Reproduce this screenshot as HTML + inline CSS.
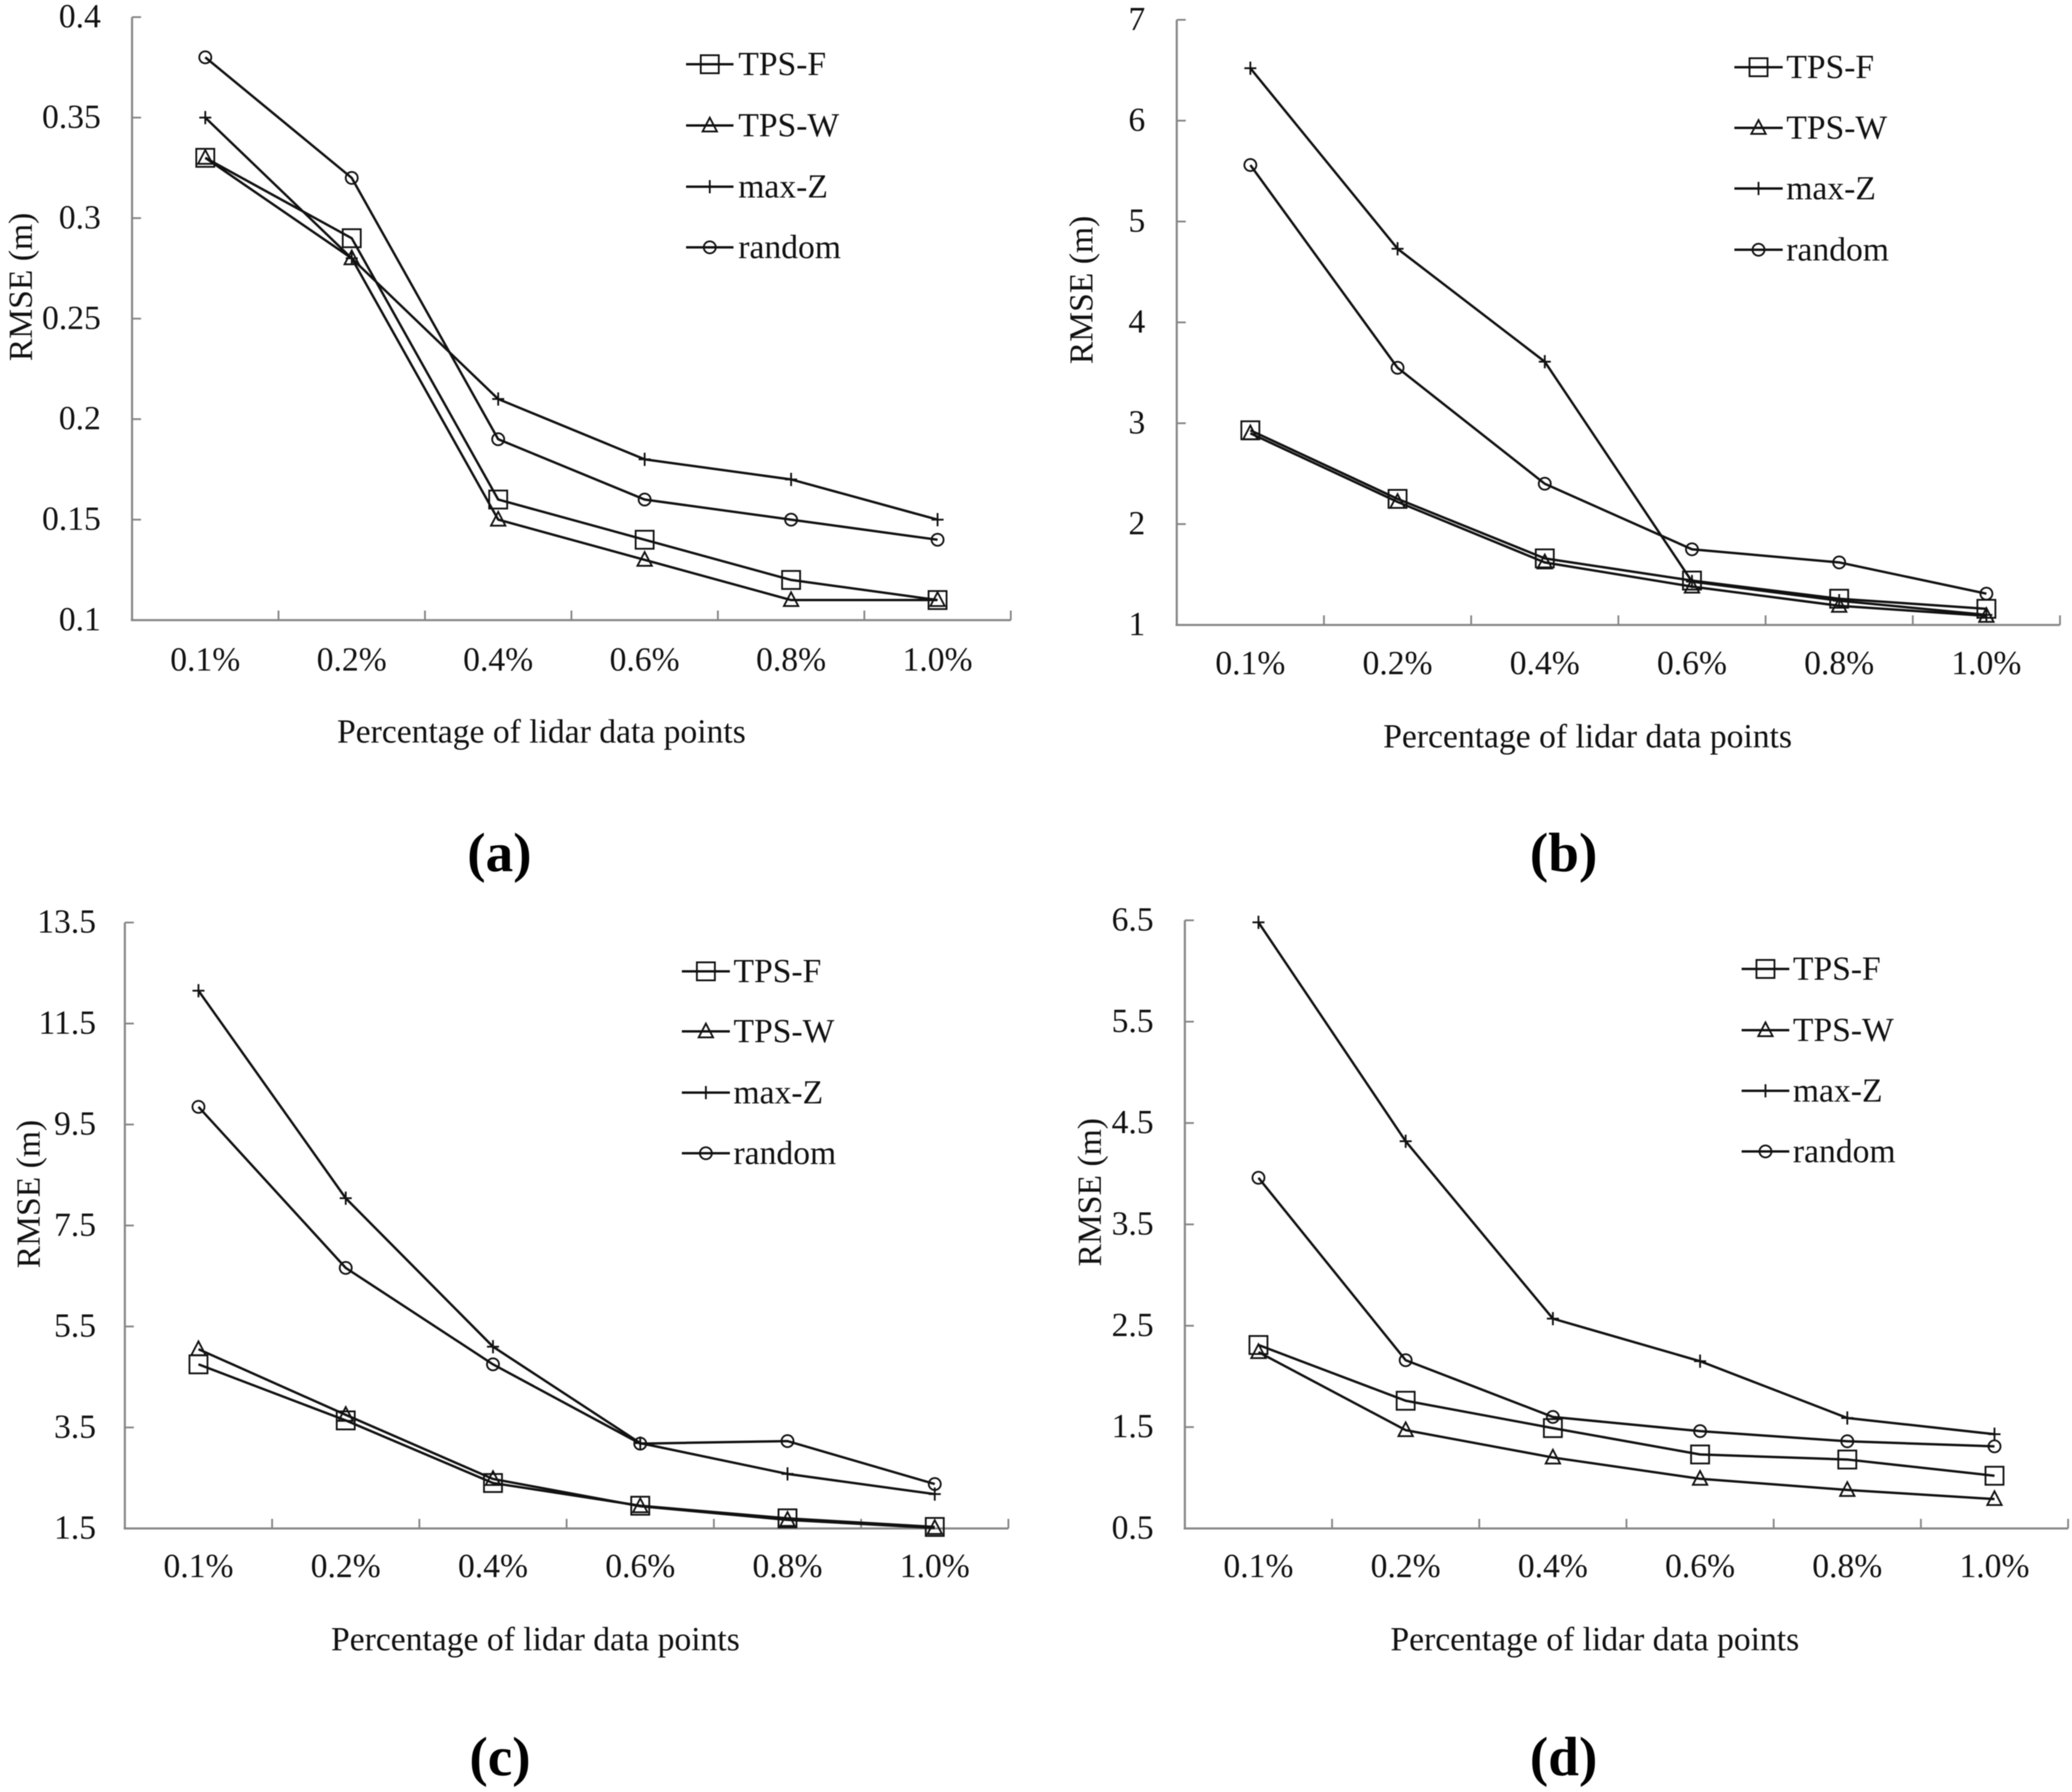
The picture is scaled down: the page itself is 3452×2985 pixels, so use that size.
<!DOCTYPE html>
<html lang="en">
<head>
<meta charset="utf-8">
<title>RMSE versus percentage of lidar data points</title>
<style>
html,body{margin:0;padding:0;background:#fff;}
#figure{display:block;width:3452px;height:2985px;filter:blur(0.8px);}
text{font-family:"Liberation Serif","Times New Roman",serif;fill:#111;font-size:56px;}
.caption{font-size:92px;font-weight:bold;fill:#000;}
</style>
</head>
<body>
<svg id="figure" xmlns="http://www.w3.org/2000/svg" width="3452" height="2985" viewBox="0 0 3452 2985"></svg>
<script>
// ---- data ----
const categories = ['0.1%', '0.2%', '0.4%', '0.6%', '0.8%', '1.0%'];
const seriesNames = ['TPS-F', 'TPS-W', 'max-Z', 'random'];

const yTicksA = ['0.1', '0.15', '0.2', '0.25', '0.3', '0.35', '0.4'];
const tpsFA = [0.33, 0.29, 0.16, 0.14, 0.12, 0.11];
const tpsWA = [0.33, 0.28, 0.15, 0.13, 0.11, 0.11];
const maxZA = [0.35, 0.28, 0.21, 0.18, 0.17, 0.15];
const randomA = [0.38, 0.32, 0.19, 0.16, 0.15, 0.14];

const yTicksB = ['1', '2', '3', '4', '5', '6', '7'];
const tpsFB = [2.93, 2.25, 1.66, 1.44, 1.26, 1.16];
const tpsWB = [2.90, 2.22, 1.62, 1.38, 1.19, 1.09];
const maxZB = [6.52, 4.73, 3.61, 1.43, 1.24, 1.10];
const randomB = [5.56, 3.55, 2.40, 1.75, 1.62, 1.31];

const yTicksC = ['1.5', '3.5', '5.5', '7.5', '9.5', '11.5', '13.5'];
const tpsFC = [4.75, 3.64, 2.40, 1.95, 1.70, 1.53];
const tpsWC = [5.05, 3.75, 2.48, 1.94, 1.67, 1.51];
const maxZC = [12.15, 8.04, 5.10, 3.19, 2.58, 2.18];
const randomC = [9.85, 6.66, 4.75, 3.18, 3.23, 2.38];

const yTicksD = ['0.5', '1.5', '2.5', '3.5', '4.5', '5.5', '6.5'];
const tpsFD = [2.31, 1.76, 1.49, 1.23, 1.18, 1.02];
const tpsWD = [2.24, 1.47, 1.20, 0.99, 0.88, 0.79];
const maxZD = [6.48, 4.32, 2.57, 2.15, 1.59, 1.43];
const randomD = [3.96, 2.16, 1.60, 1.46, 1.36, 1.31];

// ---- layout ----
const panels = [
  {id:'a', series:[tpsFA,tpsWA,maxZA,randomA], ticks:yTicksA, left:220, right:1684, top:28.5, base:1033,
   xTickBase:1117, xTitle:[902,1237], yTitle:[53,478], tickRight:168,
   legend:{x1:1143,x2:1222,text:1230,ys:[107,209,311,412]}, caption:[832,1451]},
  {id:'b', series:[tpsFB,tpsWB,maxZB,randomB], ticks:yTicksB, left:1960.5, right:3432, top:33, base:1041,
   xTickBase:1123, xTitle:[2645,1245], yTitle:[1820,483], tickRight:1908,
   legend:{x1:2889.5,x2:2970,text:2976,ys:[112,213,314,416]}, caption:[2605,1451]},
  {id:'c', series:[tpsFC,tpsWC,maxZC,randomC], ticks:yTicksC, left:208, right:1680, top:1536.7, base:2546,
   xTickBase:2627, xTitle:[892,2749], yTitle:[66,1989], tickRight:160,
   legend:{x1:1136,x2:1216,text:1222,ys:[1618,1718,1820,1921]}, caption:[833,2957]},
  {id:'d', series:[tpsFD,tpsWD,maxZD,randomD], ticks:yTicksD, left:1974, right:3445.5, top:1533, base:2546,
   xTickBase:2627, xTitle:[2657,2749], yTitle:[1834,1986], tickRight:1922,
   legend:{x1:2901.6,x2:2981,text:2987,ys:[1614,1716,1817,1918]}, caption:[2605,2957]}
];

const NS = 'http://www.w3.org/2000/svg';
const svg = document.getElementById('figure');
const INK = '#111';
const AXIS = '#868686';

function make(parent, tag, attrs, content) {
  const el = document.createElementNS(NS, tag);
  for (const k in attrs) el.setAttribute(k, attrs[k]);
  if (content !== undefined) el.textContent = content;
  parent.appendChild(el);
  return el;
}

function drawMarker(parent, kind, cx, cy) {
  const st = {fill:'none', stroke:INK, 'stroke-width':3};
  let el;
  if (kind === 0) {
    el = make(parent, 'rect', Object.assign({x:cx-15, y:cy-15, width:30, height:30}, st));
  } else if (kind === 1) {
    el = make(parent, 'path', Object.assign({d:'M'+cx+' '+(cy-13)+'L'+(cx+12)+' '+(cy+10)+'L'+(cx-12)+' '+(cy+10)+'Z'}, st));
  } else if (kind === 2) {
    el = make(parent, 'path', Object.assign({d:'M'+(cx-10)+' '+cy+'H'+(cx+10)+'M'+cx+' '+(cy-11)+'V'+(cy+11)}, st));
  } else {
    el = make(parent, 'circle', Object.assign({cx:cx, cy:cy, r:10}, st));
  }
  
  
  return el;
}

function drawPanel(p) {
  const g = make(svg, 'g', {});
  
  

  const yMin = Number(p.ticks[0]);
  const yMax = Number(p.ticks[p.ticks.length - 1]);
  const yScale = v => p.base - (v - yMin) / (yMax - yMin) * (p.base - p.top);
  const band = (p.right - p.left) / categories.length;
  const xEdge = i => p.left + i * band;
  const xScale = i => p.left + (i + 0.5) * band;

  // axes
  const yAxis = make(g, 'line', {x1:p.left, x2:p.left, y1:p.top, y2:p.base, stroke:AXIS, 'stroke-width':3.5});
  
  
  const xAxis = make(g, 'line', {x1:p.left-2, x2:p.right, y1:p.base, y2:p.base, stroke:AXIS, 'stroke-width':3.5});
  
  

  // y ticks and labels
  p.ticks.forEach(label => {
    const y = yScale(Number(label));
    const t = make(g, 'line', {x1:p.left, x2:p.left+15, y1:y, y2:y, stroke:AXIS, 'stroke-width':3});
    
    
    const l = make(g, 'text', {x:p.tickRight, y:y+17, 'text-anchor':'end'}, label);
    
    
  });

  // x ticks and labels
  for (let i = 1; i <= categories.length; i++) {
    const t = make(g, 'line', {x1:xEdge(i), x2:xEdge(i), y1:p.base-16, y2:p.base, stroke:AXIS, 'stroke-width':3});
    
    
  }
  categories.forEach((c, i) => {
    const l = make(g, 'text', {x:xScale(i), y:p.xTickBase, 'text-anchor':'middle'}, c);
    
    
  });

  // axis titles
  const xt = make(g, 'text', {x:p.xTitle[0], y:p.xTitle[1], 'text-anchor':'middle'}, 'Percentage of lidar data points');
  
  
  const yt = make(g, 'text', {transform:'translate('+p.yTitle[0]+' '+p.yTitle[1]+') rotate(-90)', 'text-anchor':'middle'}, 'RMSE (m)');
  
  

  // series
  p.series.forEach((values, s) => {
    const sg = make(g, 'g', {});
    
    
    const pts = values.map((v, i) => xScale(i) + ',' + yScale(v)).join(' ');
    const line = make(sg, 'polyline', {points:pts, fill:'none', stroke:INK, 'stroke-width':4, 'stroke-linejoin':'round'});
    
    
    values.forEach((v, i) => drawMarker(sg, s, xScale(i), yScale(v)));
  });

  // legend
  const lg = make(g, 'g', {});
  
  
  seriesNames.forEach((name, s) => {
    const y = p.legend.ys[s];
    const e = make(lg, 'g', {});
    
    
    const ln = make(e, 'line', {x1:p.legend.x1, x2:p.legend.x2, y1:y, y2:y, stroke:INK, 'stroke-width':4});
    
    
    drawMarker(e, s, (p.legend.x1 + p.legend.x2) / 2, y);
    const tx = make(e, 'text', {x:p.legend.text, y:y+18}, name);
    
    
  });

  // panel caption
  const cap = make(g, 'text', {x:p.caption[0], y:p.caption[1], 'text-anchor':'middle', class:'caption'}, '(' + p.id + ')');
  
  
}

panels.forEach(drawPanel);
</script>
</body>
</html>
